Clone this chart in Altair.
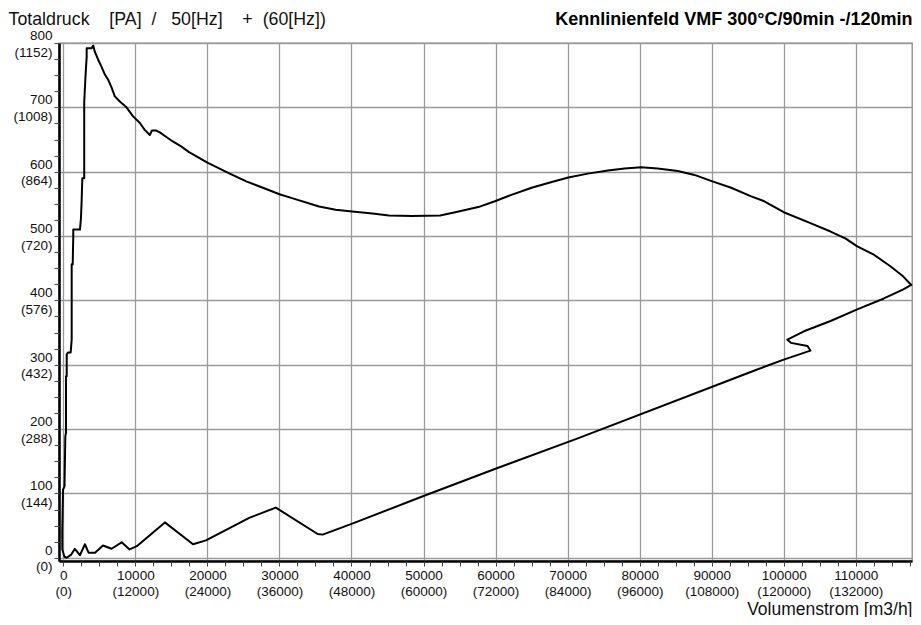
import altair as alt
import pandas as pd

# Volumenstrom [m3/h] along the measured loop
flow = [
    -150, -40, 165, 277, 373, 373, 470, 470, 650, 1020,
    1160, 1160, 1300, 1380, 1380, 2310, 2450, 2545, 2630, 2630,
    2900, 2900, 3100, 3240, 3240, 3930, 4150, 4380, 4840, 5310,
    5770, 6220, 6690, 7150, 7840, 8770, 9680, 10600, 11300, 12000,
    12300, 12900, 13400, 14300, 15200, 16400, 17500, 18000, 20000, 23100,
    25400, 27700, 30000, 32300, 35500, 37800, 40100, 42900, 45200, 48400,
    52300, 54400, 57600, 59900, 62200, 65000, 67800, 70100, 72800, 75600,
    77900, 80200, 82500, 85300, 87600, 90100, 92700, 95400, 97300, 100000,
    103700, 106500, 108600, 110200, 112500, 114800, 116600, 117700, 116600, 113900,
    110200, 106500, 102800, 100500, 101000, 103300, 103700, 100000, 96400, 93600,
    71500, 59900, 50000, 40100, 36000, 35300, 29500, 25800, 19800, 18000,
    14100, 10200, 9200, 8100, 6700, 5500, 4400, 3500, 3000, 2300,
    1600, 1100, 470, 140, -140, -150,
]
# Totaldruck [Pa]
pressure = [
    41, 106, 111, 188, 195, 282, 282, 316, 319, 319,
    339, 456, 456, 499, 510, 510, 528, 556, 587, 590,
    590, 708, 753, 778, 792, 792, 796, 786, 774, 763,
    751, 743, 731, 717, 709, 700, 686, 676, 665, 657,
    664, 664, 661, 654, 647, 639, 630, 627, 614, 597,
    585, 575, 565, 557, 546, 541, 538, 535, 532, 531,
    532, 537, 545, 554, 564, 575, 584, 591, 597, 602,
    605, 607, 605, 601, 595, 585, 575, 562, 554, 537,
    520, 507, 496, 484, 471, 453, 437, 424, 417, 403,
    386, 368, 352, 339, 334, 329, 322, 308, 293, 281,
    186, 138, 96, 53, 36, 37, 78, 62, 27, 21,
    55, 18, 13, 24, 14, 19, 8, 8, 21, 4,
    14, 5, 0, 2, 13, 41,
]

y_label_vals = list(range(0, 801, 100))
y_minor_vals = list(range(0, 801, 25))
x_label_vals = list(range(0, 110001, 10000))
x_minor_vals = list(range(0, 117501, 2500))

title_left = "Totaldruck\u00a0\u00a0\u00a0 [PA]\u00a0\u00a0/\u00a0\u00a0 50[Hz]\u00a0\u00a0\u00a0 +\u00a0\u00a0(60[Hz])"
title_right = "Kennlinienfeld VMF 300°C/90min -/120min"
title_x = "Volumenstrom [m3/h]"

df = pd.DataFrame({"flow": flow, "pressure": pressure, "idx": list(range(len(flow)))})

FONT = "Liberation Sans"
xs = alt.Scale(domain=[-600, 117800], nice=False, zero=False)
ys = alt.Scale(domain=[-5, 800], nice=False, zero=False)

curve = alt.Chart(df).mark_line(color="black", strokeWidth=2, strokeJoin="round").encode(
    x=alt.X("flow:Q", scale=xs, axis=alt.Axis(
        orient="bottom", values=x_label_vals, grid=True, gridColor="#9a9a9a", gridWidth=1.3,
        ticks=False, tickSize=0, domain=True, domainColor="black", domainWidth=2.6,
        labelExpr="[format(datum.value, 'd'), '(' + format(datum.value * 1.2, 'd') + ')']",
        labelFont=FONT, labelFontSize=13.5, labelLineHeight=16, labelPadding=7,
        labelColor="#111", labelFlush=False, labelOverlap=False, labelBound=False,
        title=title_x, titleFont=FONT, titleFontSize=17.5, titleFontWeight="normal",
        titleColor="#111", titleX=853, titleY=53, titleAlign="right", titleBaseline="alphabetic",
    )),
    y=alt.Y("pressure:Q", scale=ys, axis=alt.Axis(
        orient="left", values=y_label_vals, grid=True, gridColor="#9a9a9a", gridWidth=1.3,
        ticks=False, tickSize=0, domain=True, domainColor="black", domainWidth=2.6,
        labelExpr="[format(datum.value, 'd'), '(' + format(datum.value * 1.44, 'd') + ')']",
        labelFont=FONT, labelFontSize=13.5, labelLineHeight=16.5, labelPadding=7,
        labelOffset=-7.5,
        labelColor="#111", labelFlush=False, labelOverlap=False, labelBound=False,
        title=title_left, titleFont=FONT, titleFontSize=17.8, titleFontWeight="normal",
        titleColor="#111", titleX=-51, titleY=-19, titleAngle=0, titleAlign="left",
        titleBaseline="alphabetic",
    )),
    order="idx:Q",
)

minor = alt.Chart(df).mark_point(opacity=0).encode(
    x=alt.X("flow:Q", scale=xs, axis=alt.Axis(
        orient="bottom", values=x_minor_vals, grid=False, labels=False, domain=False,
        ticks=True, tickSize=5, tickColor="#444", tickWidth=1, title=None,
    )),
    y=alt.Y("pressure:Q", scale=ys, axis=alt.Axis(
        orient="left", values=y_minor_vals, grid=False, labels=False, domain=False,
        ticks=True, tickSize=5, tickColor="#444", tickWidth=1,
        title=title_right, titleFont=FONT, titleFontSize=18, titleFontWeight="bold",
        titleColor="black", titleX=853, titleY=-19, titleAngle=0, titleAlign="right",
        titleBaseline="alphabetic",
    )),
)

chart = alt.layer(curve, minor).resolve_axis(x="independent", y="independent").properties(
    width=853, height=518,
    autosize=alt.AutoSizeParams(type="none"),
    padding={"left": 51, "top": 35, "right": 1, "bottom": 56},
).configure_view(stroke="#8a8a8a", strokeWidth=1.3)

chart.save("out.html", embed_options={"renderer": "svg", "actions": False})
